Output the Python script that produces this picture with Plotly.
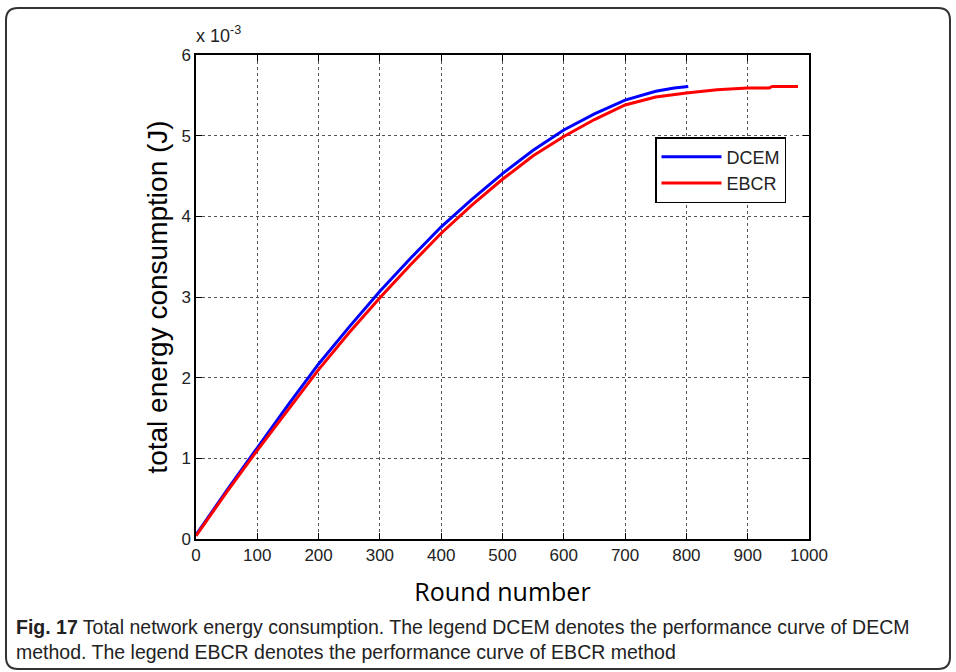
import plotly.graph_objects as go

rounds_dcem = [0, 50, 100, 150, 200, 250, 300, 350, 400, 450, 500, 550, 600, 650, 700, 750, 780, 803]
dcem = [0.05, 0.6, 1.13, 1.66, 2.17, 2.63, 3.07, 3.48, 3.87, 4.21, 4.53, 4.82, 5.07, 5.27, 5.44, 5.55, 5.59, 5.61]

rounds_ebcr = [0, 50, 100, 150, 200, 250, 300, 350, 400, 450, 500, 550, 600, 650, 700, 750, 800, 850, 900, 935, 940, 982]
ebcr = [0.04, 0.58, 1.1, 1.6, 2.1, 2.56, 2.99, 3.4, 3.79, 4.14, 4.46, 4.75, 4.99, 5.2, 5.38, 5.48, 5.53, 5.57, 5.59, 5.59, 5.61, 5.61]

x_ticks = [0, 100, 200, 300, 400, 500, 600, 700, 800, 900, 1000]
y_ticks = [0, 1, 2, 3, 4, 5, 6]

W, H = 956, 672
L, R, T, B = 196, 809, 55, 539

ARIAL = "Arial"

fig = go.Figure()
fig.add_trace(go.Scatter(x=rounds_dcem, y=dcem, mode="lines", name="DCEM",
                         line=dict(color="#0000ff", width=3)))
fig.add_trace(go.Scatter(x=rounds_ebcr, y=ebcr, mode="lines", name="EBCR",
                         line=dict(color="#ff0000", width=3)))

def px2x(p):
    return (p - L) / (R - L)

def px2y(p):
    return (B - p) / (B - T)

axis_common = dict(showline=True, linecolor="black", linewidth=1.5, mirror="ticks",
                   ticks="inside", ticklen=6, tickcolor="black",
                   showgrid=True, gridcolor="#555555", griddash="dot", gridwidth=1,
                   zeroline=False,
                   tickfont=dict(family=ARIAL, size=17, color="#222222"))

fig.update_layout(
    width=W, height=H,
    margin=dict(l=L, r=W - R, t=T, b=H - B),
    paper_bgcolor="white", plot_bgcolor="white",
    xaxis=dict(range=[0, 1000], tickvals=x_ticks, **axis_common,
               title=dict(text="Round number", standoff=19,
                          font=dict(family="Open Sans", size=25, color="black"))),
    yaxis=dict(range=[0, 6], tickvals=y_ticks, **axis_common,
               title=dict(text="total energy consumption (J)", standoff=6,
                          font=dict(family=ARIAL, size=28, color="black"))),
    legend=dict(x=px2x(655), y=px2y(137), xanchor="left", yanchor="top",
                bordercolor="black", borderwidth=1.5, bgcolor="white",
                font=dict(family=ARIAL, size=18, color="#222222"),
                itemwidth=60, tracegroupgap=2),
    showlegend=True,
)

fig.add_annotation(xref="paper", yref="paper", x=px2x(194), y=px2y(48),
                   xanchor="left", yanchor="bottom", showarrow=False,
                   text="x 10<sup>-3</sup>",
                   font=dict(family=ARIAL, size=18, color="#222222"))

fig.add_annotation(xref="paper", yref="paper", x=px2x(14), y=px2y(614),
                   xanchor="left", yanchor="top", showarrow=False, align="left",
                   text="<b>Fig. 17</b> Total network energy consumption. The legend DCEM denotes the performance curve of DECM<br>method. The legend EBCR denotes the performance curve of EBCR method",
                   font=dict(family="Liberation Sans", size=19.5, color="#222222"))

# rounded frame around the figure
x0, x1, y0, y1, r = 6, 950, 8, 669, 12
path = (f"M {px2x(x0+r)},{px2y(y0)} L {px2x(x1-r)},{px2y(y0)} "
        f"Q {px2x(x1)},{px2y(y0)} {px2x(x1)},{px2y(y0+r)} "
        f"L {px2x(x1)},{px2y(y1-r)} Q {px2x(x1)},{px2y(y1)} {px2x(x1-r)},{px2y(y1)} "
        f"L {px2x(x0+r)},{px2y(y1)} Q {px2x(x0)},{px2y(y1)} {px2x(x0)},{px2y(y1-r)} "
        f"L {px2x(x0)},{px2y(y0+r)} Q {px2x(x0)},{px2y(y0)} {px2x(x0+r)},{px2y(y0)} Z")
fig.add_shape(type="path", xref="paper", yref="paper", path=path,
              line=dict(color="#333333", width=2), layer="above")

fig.write_html("out.html")
